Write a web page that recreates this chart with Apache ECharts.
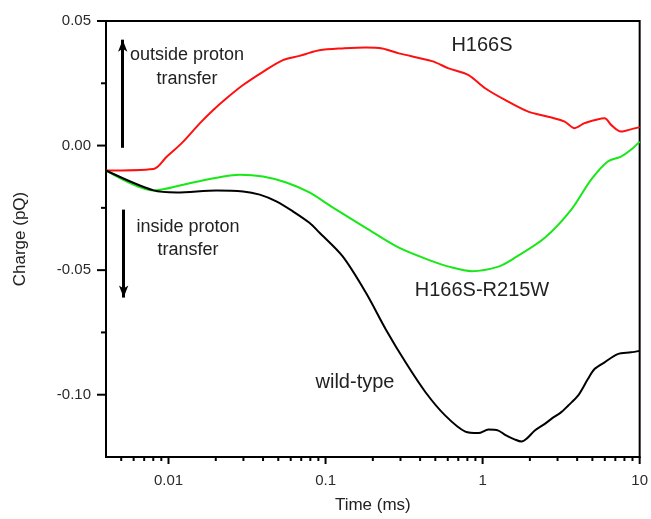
<!DOCTYPE html>
<html><head><meta charset="utf-8">
<script src="https://cdn.jsdelivr.net/npm/echarts@6/dist/echarts.min.js"></script>
<style>html,body{margin:0;padding:0;background:#fff}#c{width:651px;height:519px}</style>
</head><body><div id="c"></div>
<script>
// ---- data (time in ms, charge in pQ) ----
const timeH166S = [0.004, 0.00803, 0.00977, 0.01215, 0.01587, 0.01927, 0.02342, 0.02984, 0.03995, 0.0535, 0.0682, 0.0789, 0.0913, 0.1282, 0.1804, 0.2298, 0.2932, 0.4764, 0.608, 0.8135, 1.038, 1.39, 1.952, 2.614, 3.33, 3.857, 4.46, 5.98, 6.58, 7.61, 8.80, 10];
const chargeH166S = [-0.010, -0.0094, -0.0044, 0.0010, 0.0090, 0.0143, 0.0190, 0.0243, 0.0296, 0.0343, 0.0360, 0.0372, 0.0383, 0.0390, 0.0394, 0.0390, 0.0370, 0.0339, 0.0310, 0.0283, 0.0230, 0.0183, 0.0136, 0.0116, 0.0096, 0.0070, 0.0090, 0.0110, 0.0083, 0.0056, 0.0065, 0.0074];

const timeR215W = [0.004, 0.00803, 0.01244, 0.01836, 0.02844, 0.03995, 0.0562, 0.0789, 0.1109, 0.1804, 0.2932, 0.4764, 0.608, 0.854, 1.26, 1.608, 2.49, 3.67, 4.91, 6.27, 7.61, 8.80, 10];
const chargeR215W = [-0.010, -0.018, -0.0157, -0.0134, -0.0117, -0.0124, -0.0148, -0.0188, -0.0248, -0.0330, -0.0410, -0.0464, -0.0486, -0.0504, -0.0486, -0.0450, -0.0370, -0.0257, -0.0137, -0.0064, -0.0044, -0.0017, 0.0016];

const timeWT = [0.004, 0.00803, 0.0113, 0.02024, 0.02984, 0.0381, 0.0486, 0.0619, 0.0789, 0.0913, 0.1282, 0.1804, 0.2415, 0.3232, 0.433, 0.579, 0.776, 0.942, 1.089, 1.26, 1.39, 1.608, 1.77, 1.904, 2.15, 2.49, 2.74, 3.17, 3.50, 4.05, 4.68, 5.16, 5.98, 7.25, 8.80, 10];
const chargeWT = [-0.010, -0.018, -0.0188, -0.0180, -0.0184, -0.0197, -0.0224, -0.0264, -0.0310, -0.0349, -0.0444, -0.0590, -0.0737, -0.0870, -0.0990, -0.1084, -0.1148, -0.1154, -0.1140, -0.1144, -0.1161, -0.1180, -0.1188, -0.1177, -0.1144, -0.1117, -0.1097, -0.1070, -0.1044, -0.1004, -0.0937, -0.0897, -0.0870, -0.0837, -0.0830, -0.0824];

// ---- axes / ticks ----
const xMin = 0.004, xMax = 10;
const yMin = -0.125, yMax = 0.05, yStep = 0.025;
const xMajorTicks = [0.01, 0.1, 1, 10];
const xMinorTicks = [0.005, 0.006, 0.007, 0.008, 0.009,
  0.02, 0.03, 0.04, 0.05, 0.06, 0.07, 0.08, 0.09,
  0.2, 0.3, 0.4, 0.5, 0.6, 0.7, 0.8, 0.9,
  2, 3, 4, 5, 6, 7, 8, 9];
const yMajorTicks = [-0.10, -0.05, 0.00, 0.05];
const yMinorTicks = [-0.075, -0.025, 0.025];

// ---- annotation arrows (data coords) ----
const arrowUp = [[0.00511, -0.0009], [0.00511, 0.0425]];
const arrowDown = [[0.00518, -0.0257], [0.00518, -0.0610]];

const zip = (a, b) => a.map((v, i) => [v, b[i]]);

const tickData = []
  .concat(xMajorTicks.map(v => [v, yMin, 0]))
  .concat(xMinorTicks.map(v => [v, yMin, 1]))
  .concat(yMajorTicks.map(v => [xMin, v, 2]))
  .concat(yMinorTicks.map(v => [xMin, v, 3]));

const FONT = '"Liberation Sans", Arial, sans-serif';
const chart = echarts.init(document.getElementById('c'));

function lineSeries(name, t, q, color) {
  return {
    name, type: 'line', data: zip(t, q), showSymbol: false, symbol: 'none',
    lineStyle: { color, width: 2 }, smooth: 0.3, silent: true, z: 3
  };
}

const txt = (s, x, y, size) => ({
  type: 'text', x, y, silent: true,
  style: { text: s, font: size + 'px ' + FONT, fill: '#222', align: 'center', verticalAlign: 'middle' }
});

chart.setOption({
  animation: false,
  backgroundColor: '#fff',
  grid: { left: 106, right: 9, top: 21, bottom: 60, show: true, borderColor: '#000', borderWidth: 2, backgroundColor: 'transparent' },
  xAxis: {
    type: 'log', logBase: 10, min: xMin, max: xMax,
    name: 'Time (ms)', nameLocation: 'middle', nameGap: 40,
    nameTextStyle: { fontFamily: FONT, fontSize: 17, color: '#222' },
    axisLine: { onZero: false, lineStyle: { color: '#000', width: 2 } },
    axisTick: { show: false }, splitLine: { show: false }, minorTick: { show: false },
    axisLabel: {
      margin: 16, fontFamily: FONT, fontSize: 15, color: '#2a2a2a',
      formatter: v => {
        const l = Math.log10(v);
        if (Math.abs(l - Math.round(l)) > 1e-6 || v < 0.0099) return '';
        return String(Number(v.toPrecision(1)));
      }
    }
  },
  yAxis: {
    type: 'value', min: yMin, max: yMax, interval: yStep,
    name: 'Charge (pQ)', nameLocation: 'middle', nameGap: 77,
    nameTextStyle: { fontFamily: FONT, fontSize: 17, color: '#222' },
    axisLine: { show: true, onZero: false, lineStyle: { color: '#000', width: 2 } },
    axisTick: { show: false }, splitLine: { show: false },
    axisLabel: {
      margin: 15, fontFamily: FONT, fontSize: 15, color: '#2a2a2a',
      formatter: v => {
        const m = Math.round(v * 1000);
        if (m % 50 !== 0) return '';
        const r = m / 1000;
        return r === 0 ? '0.00' : r.toFixed(2);
      }
    }
  },
  series: [
    lineSeries('H166S', timeH166S, chargeH166S, '#ff1010'),
    lineSeries('H166S-R215W', timeR215W, chargeR215W, '#18e818'),
    lineSeries('wild-type', timeWT, chargeWT, '#000000'),
    {
      type: 'custom', name: 'ticks', data: tickData, silent: true, clip: false, z: 5,
      encode: { x: 0, y: 1 },
      renderItem(params, api) {
        const kind = api.value(2);
        const cs = params.coordSys;
        let shape;
        if (kind < 2) {
          const p = api.coord([api.value(0), yMin]);
          const len = kind === 0 ? 7 : 4;
          const y0 = cs.y + cs.height;
          shape = { x1: p[0], y1: y0, x2: p[0], y2: y0 + len };
        } else {
          const p = api.coord([xMin, api.value(1)]);
          const len = kind === 2 ? 9 : 5;
          shape = { x1: cs.x - len, y1: p[1], x2: cs.x, y2: p[1] };
        }
        return { type: 'line', shape, style: { stroke: '#000', lineWidth: 2 } };
      }
    },
    {
      type: 'line', name: 'arrows', data: [], silent: true,
      markLine: {
        silent: true, animation: false,
        symbol: ['none', 'arrow'], symbolSize: [7, 12],
        label: { show: false },
        lineStyle: { color: '#000', width: 3, type: 'solid' },
        data: [
          [{ coord: arrowUp[0] }, { coord: arrowUp[1] }],
          [{ coord: arrowDown[0] }, { coord: arrowDown[1] }]
        ]
      }
    }
  ],
  graphic: [
    txt('outside proton', 187, 55, 18),
    txt('transfer', 187, 79, 18),
    txt('inside proton', 188, 227, 18),
    txt('transfer', 188, 250, 18),
    txt('H166S', 482, 45, 20),
    txt('H166S-R215W', 482, 290, 20),
    txt('wild-type', 355, 382, 20)
  ]
});
</script></body></html>
